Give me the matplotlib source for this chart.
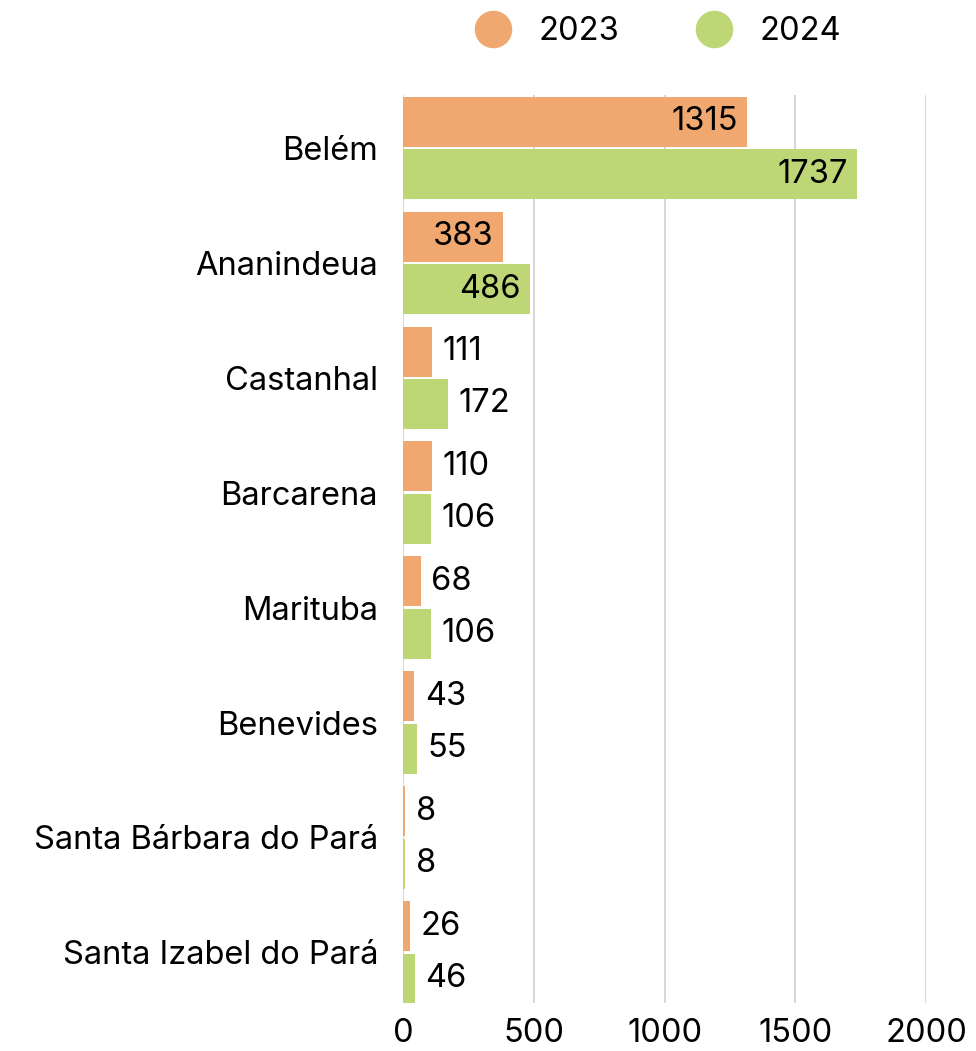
import matplotlib.pyplot as plt
from matplotlib.lines import Line2D
import numpy as np

ORANGE = "#F0A870"
GREEN = "#BDD777"
GRID = "#CFCFCF"

cities = ["Belém", "Ananindeua", "Castanhal", "Barcarena", "Marituba",
          "Benevides", "Santa Bárbara do Pará", "Santa Izabel do Pará"]
v2023 = [1315, 383, 111, 110, 68, 43, 8, 26]
v2024 = [1737, 486, 172, 106, 106, 55, 8, 46]
years = ["2023", "2024"]
xticks = [0, 500, 1000, 1500, 2000]

plt.rcParams["font.family"] = ["Inter", "DejaVu Sans"]

fig = plt.figure(figsize=(9.76, 10.51), dpi=100)
ax = fig.add_axes([0.413, 0.0457, 0.536, 0.8639])

y = np.arange(len(cities))
h = 0.435
off = 0.228
b1 = ax.barh(y - off, v2023, height=h, color=ORANGE, zorder=2)
b2 = ax.barh(y + off, v2024, height=h, color=GREEN, zorder=2)

for bars, vals in ((b1, v2023), (b2, v2024)):
    for bar, v in zip(bars, vals):
        cy = bar.get_y() + bar.get_height() / 2
        if v > 300:
            ax.text(v - 35, cy, str(v), ha="right", va="center",
                    fontsize=23.5, color="black", zorder=3)
        else:
            ax.text(v + 40, cy, str(v), ha="left", va="center",
                    fontsize=23.5, color="black", zorder=3)

ax.set_xlim(0, 2000)
ax.set_ylim(7.44, -0.46)
ax.set_xticks(xticks)
ax.set_xticklabels([str(t) for t in xticks], fontsize=23.5)
ax.set_yticks(y)
ax.set_yticklabels(cities, fontsize=23.5)
ax.tick_params(axis="both", length=0)
ax.tick_params(axis="x", pad=11)
ax.tick_params(axis="y", pad=18)
ax.grid(axis="x", color=GRID, linewidth=1.2, zorder=0)
for s in ax.spines.values():
    s.set_visible(False)

handles = [Line2D([], [], marker="o", linestyle="", markersize=26,
                  markerfacecolor=c, markeredgecolor=c)
           for c in (ORANGE, GREEN)]
fig.legend(handles, years, loc="center", bbox_to_anchor=(0.667, 0.97),
           ncol=2, frameon=False, fontsize=23.5, handletextpad=0.4,
           columnspacing=1.9)

fig.savefig("out.png", dpi=100, facecolor="white")
